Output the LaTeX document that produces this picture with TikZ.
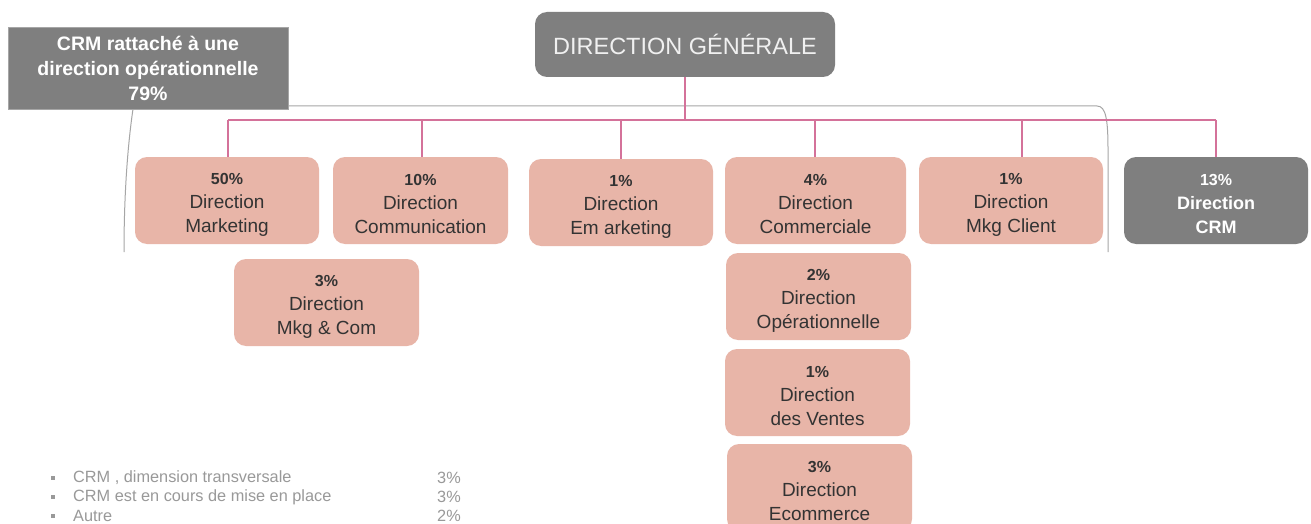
\documentclass[tikz,border=0pt]{standalone}
\usepackage{fontspec}
\setmainfont{Liberation Sans}
\definecolor{pinkfill}{HTML}{E8B5A8}
\definecolor{boxgray}{HTML}{7F7F7F}
\definecolor{busline}{HTML}{D4729A}
\definecolor{brack}{HTML}{A6A6A6}
\definecolor{listgray}{HTML}{999999}
\definecolor{txtdark}{HTML}{333333}
\newcommand{\pct}[1]{\rule{0pt}{19pt}{\bfseries\fontsize{16}{24}\selectfont #1}}
\begin{document}
\begin{tikzpicture}[x=1pt,y=-1pt,
  pinkbox/.style={fill=pinkfill,rounded corners=12pt,inner sep=0pt,minimum height=87pt,align=center,text=txtdark,font=\fontsize{19}{24}\selectfont},
  graybox/.style={fill=boxgray,rounded corners=12pt,inner sep=0pt,align=center,text=white},
  bus/.style={draw=busline,line width=1.3pt},
  bracket/.style={draw=brack,line width=1pt},
  listtxt/.style={anchor=west,inner sep=0pt,text=listgray,font=\fontsize{16.3}{18}\selectfont},
  listpct/.style={anchor=east,inner sep=0pt,text=listgray,font=\fontsize{16.3}{18}\selectfont},
  bulletsq/.style={fill=listgray,inner sep=0pt,minimum size=4pt}
]
\clip (0,0) rectangle (1311,524);
\fill[white] (0,0) rectangle (1311,524);

% bracket
\draw[bracket] (288,106) -- (1097,106) .. controls (1106,106) and (1108,120) .. (1108,150) -- (1108,252);
\draw[bracket] (133,109) .. controls (127,150) and (124,200) .. (124,252);

% top boxes
\node[fill=boxgray,draw=brack,line width=0.6pt,minimum width=280pt,minimum height=82pt,inner sep=0pt,align=center,text=white,font=\bfseries\fontsize{19.5}{25}\selectfont] (crmop) at (148,68) {CRM rattaché à une\\direction opérationnelle\\79\%};
\node[graybox,minimum width=300pt,minimum height=65pt,font=\fontsize{23.5}{26}\selectfont,text=white!94!black] (dg) at (685,44.5) {DIRECTION GÉNÉRALE};

% row 1
\node[pinkbox,minimum width=184pt] (mkt) at (227,200.5) {\pct{50\%}\\Direction\\Marketing};
\node[pinkbox,minimum width=175pt] (com) at (420.5,200.5) {\pct{10\%}\\Direction\\Communication};
\node[pinkbox,minimum width=184pt] (emk) at (621,202.5) {\pct{1\%}\\Direction\\Em arketing};
\node[pinkbox,minimum width=181pt] (cmr) at (815.5,200.5) {\pct{4\%}\\Direction\\Commerciale};
\node[pinkbox,minimum width=184pt] (mkc) at (1011,200.5) {\pct{1\%}\\Direction\\Mkg Client};
\node[graybox,minimum width=184pt,minimum height=87pt,font=\bfseries\fontsize{18}{24}\selectfont] (crm) at (1216,200.5) {\pct{13\%}\\Direction\\CRM};

% lower boxes
\node[pinkbox,minimum width=185pt] (mkgcom) at (326.5,302.5) {\pct{3\%}\\Direction\\Mkg \& Com};
\node[pinkbox,minimum width=185pt] (ope) at (818.5,296.5) {\pct{2\%}\\Direction\\Opérationnelle};
\node[pinkbox,minimum width=185pt] (ven) at (817.5,392.5) {\pct{1\%}\\Direction\\des Ventes};
\node[pinkbox,minimum width=185pt] (eco) at (819.5,487.5) {\pct{3\%}\\Direction\\Ecommerce};

% bus
\coordinate (hub) at (685,120);
\coordinate (b1) at (228,120);
\coordinate (b2) at (422,120);
\coordinate (b3) at (621,120);
\coordinate (b4) at (815,120);
\coordinate (b5) at (1022,120);
\coordinate (b6) at (1216,120);
\draw[bus] (dg.south) -- (hub);
\draw[bus] (b1) -- (b6);
\draw[bus] (b1) -- (b1 |- mkt.north);
\draw[bus] (b2) -- (b2 |- com.north);
\draw[bus] (b3) -- (b3 |- emk.north);
\draw[bus] (b4) -- (b4 |- cmr.north);
\draw[bus] (b5) -- (b5 |- mkc.north);
\draw[bus] (b6) -- (b6 |- crm.north);

% list
\node[bulletsq] (s1) at (53,478) {};
\node[bulletsq] (s2) at (53,497) {};
\node[bulletsq] (s3) at (53,516) {};
\node[listtxt] (l1) at (73,478) {CRM , dimension transversale};
\node[listtxt] (l2) at (73,497) {CRM  est en cours de mise en place};
\node[listtxt] (l3) at (73,516) {Autre};
\node[listpct] (p1) at (461,478) {3\%};
\node[listpct] (p2) at (461,497) {3\%};
\node[listpct] (p3) at (461,516) {2\%};
\end{tikzpicture}
\end{document}
